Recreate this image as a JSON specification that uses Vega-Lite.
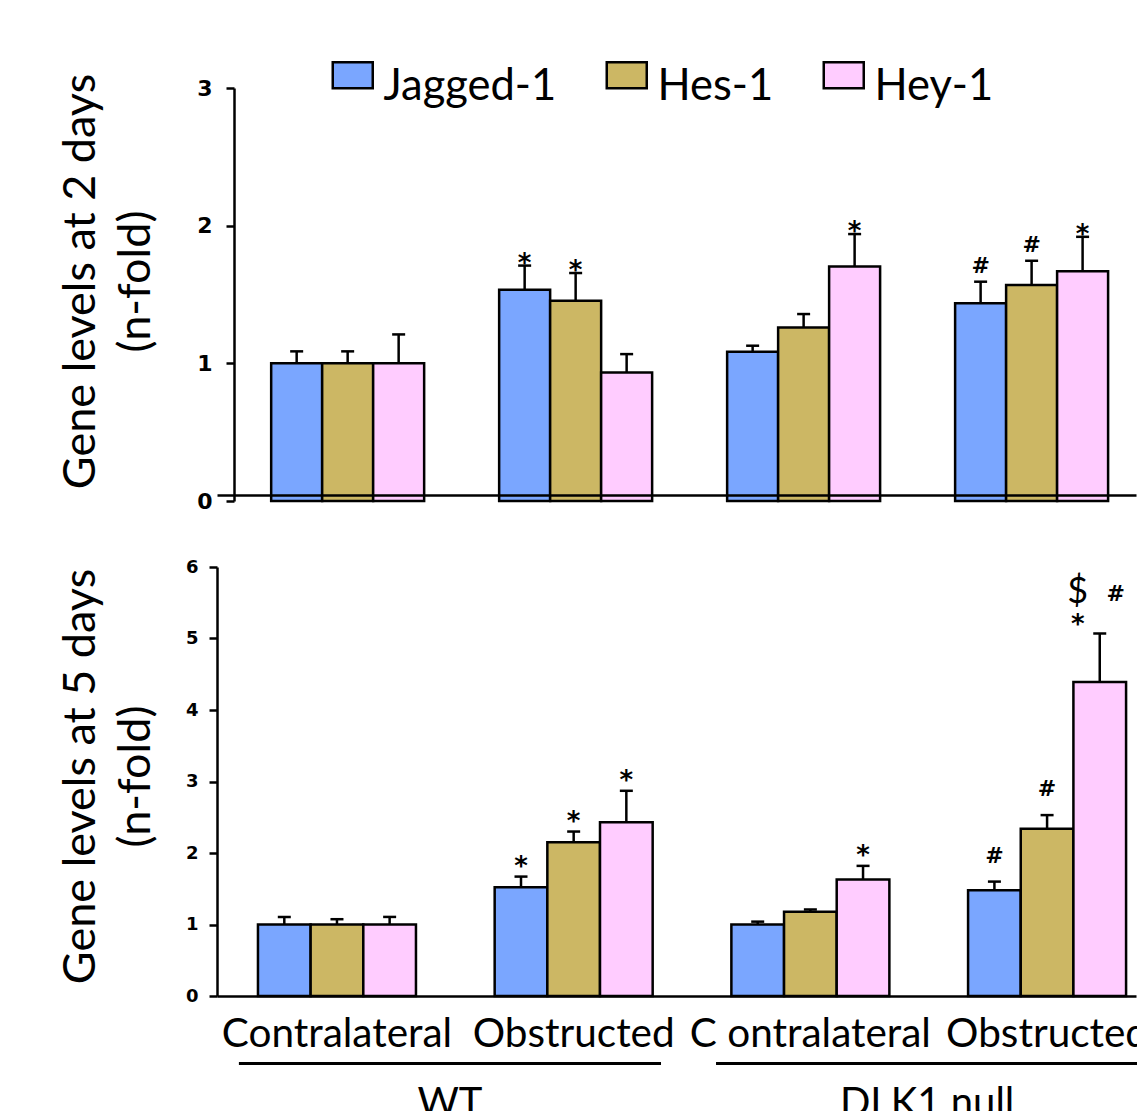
{
  "$schema": "https://vega.github.io/schema/vega-lite/v6.json",
  "padding": {"left": 57, "top": 65, "right": 0, "bottom": 0},
  "background": "white",
  "bounds": "flush",
  "spacing": 66,
  "resolve": {"scale": {"color": "independent", "xOffset": "independent"}},
  "datasets": {
    "d2": [
      {"grp": "WT|Contralateral", "gene": "Jagged-1", "mean": 1.0, "upper": 1.087},
      {"grp": "WT|Contralateral", "gene": "Hes-1", "mean": 1.0, "upper": 1.087},
      {"grp": "WT|Contralateral", "gene": "Hey-1", "mean": 1.0, "upper": 1.21},
      {"grp": "WT|Obstructed", "gene": "Jagged-1", "mean": 1.535, "upper": 1.71, "sig": "*"},
      {"grp": "WT|Obstructed", "gene": "Hes-1", "mean": 1.455, "upper": 1.656, "sig": "*"},
      {"grp": "WT|Obstructed", "gene": "Hey-1", "mean": 0.934, "upper": 1.067},
      {"grp": "DLK1 null|C ontralateral", "gene": "Jagged-1", "mean": 1.085, "upper": 1.128},
      {"grp": "DLK1 null|C ontralateral", "gene": "Hes-1", "mean": 1.261, "upper": 1.358},
      {"grp": "DLK1 null|C ontralateral", "gene": "Hey-1", "mean": 1.704, "upper": 1.939, "sig": "*"},
      {"grp": "DLK1 null|Obstructed", "gene": "Jagged-1", "mean": 1.436, "upper": 1.593, "sig": "#"},
      {"grp": "DLK1 null|Obstructed", "gene": "Hes-1", "mean": 1.569, "upper": 1.745, "sig": "#"},
      {"grp": "DLK1 null|Obstructed", "gene": "Hey-1", "mean": 1.668, "upper": 1.919, "sig": "*"}
    ],
    "d5": [
      {"grp": "WT|Contralateral", "gene": "Jagged-1", "mean": 1.0, "upper": 1.106},
      {"grp": "WT|Contralateral", "gene": "Hes-1", "mean": 1.0, "upper": 1.074},
      {"grp": "WT|Contralateral", "gene": "Hey-1", "mean": 1.0, "upper": 1.106},
      {"grp": "WT|Obstructed", "gene": "Jagged-1", "mean": 1.52, "upper": 1.67, "sig": "*"},
      {"grp": "WT|Obstructed", "gene": "Hes-1", "mean": 2.15, "upper": 2.3, "sig": "*"},
      {"grp": "WT|Obstructed", "gene": "Hey-1", "mean": 2.43, "upper": 2.87, "sig": "*"},
      {"grp": "DLK1 null|C ontralateral", "gene": "Jagged-1", "mean": 1.0, "upper": 1.04},
      {"grp": "DLK1 null|C ontralateral", "gene": "Hes-1", "mean": 1.18, "upper": 1.21},
      {"grp": "DLK1 null|C ontralateral", "gene": "Hey-1", "mean": 1.63, "upper": 1.82, "sig": "*"},
      {"grp": "DLK1 null|Obstructed", "gene": "Jagged-1", "mean": 1.48, "upper": 1.6, "sig": "#"},
      {"grp": "DLK1 null|Obstructed", "gene": "Hes-1", "mean": 2.34, "upper": 2.53, "sig": "#"},
      {"grp": "DLK1 null|Obstructed", "gene": "Hey-1", "mean": 4.39, "upper": 5.07, "sigL": "*", "sigL2": "$", "sigR": "#"}
    ],
    "geno": [{"geno": "WT"}, {"geno": "DLK1 null"}]
  },
  "vconcat": [
    {
      "width": 919,
      "height": 413,
      "data": {"name": "d2"},
      "encoding": {
        "x": {
          "field": "grp", "type": "nominal",
          "sort": ["WT|Contralateral", "WT|Obstructed", "DLK1 null|C ontralateral", "DLK1 null|Obstructed"],
          "scale": {"paddingInner": 0.329, "paddingOuter": 0.18, "align": 0.66},
          "axis": {"labels": false, "ticks": false, "domain": true, "offset": -6, "zindex": 1, "title": null, "domainColor": "black", "domainWidth": 2.5}
        },
        "xOffset": {"field": "gene", "type": "nominal", "sort": ["Jagged-1", "Hes-1", "Hey-1"], "scale": {"paddingInner": 0, "paddingOuter": 0}}
      },
      "layer": [
        {
          "mark": {"type": "rule", "stroke": "black", "strokeWidth": 2.5},
          "encoding": {"y": {"field": "mean", "type": "quantitative"}, "y2": {"field": "upper"}}
        },
        {
          "mark": {"type": "tick", "color": "black", "size": 13, "thickness": 2.5, "opacity": 1},
          "encoding": {"y": {"field": "upper", "type": "quantitative"}}
        },
        {
          "mark": {"type": "bar", "stroke": "black", "strokeWidth": 2.5, "opacity": 1},
          "encoding": {
            "y": {
              "field": "mean", "type": "quantitative",
              "scale": {"domain": [0, 3], "nice": false, "zero": true},
              "axis": {
                "title": ["Gene levels at 2 days", "(n-fold)"],
                "offset": -17, "values": [0, 1, 2, 3], "format": "d",
                "tickSize": 8, "tickWidth": 2.5, "tickColor": "black",
                "domainColor": "black", "domainWidth": 2.5,
                "labelFont": "DejaVu Sans", "labelFontWeight": "bold", "labelFontSize": 22, "labelColor": "black", "labelPadding": 14,
                "titleFont": "Lato", "titleFontSize": 45, "titleFontWeight": "normal", "titleColor": "black", "titleLineHeight": 55,
                "titleX": -131, "titleY": 193, "titleBaseline": "bottom", "grid": false
              }
            },
            "color": {
              "field": "gene", "type": "nominal",
              "sort": ["Jagged-1", "Hes-1", "Hey-1"],
              "scale": {"domain": ["Jagged-1", "Hes-1", "Hey-1"], "range": ["#7aa6ff", "#ccb764", "#ffccff"]},
              "legend": {
                "orient": "none", "legendX": 114, "legendY": -23, "direction": "horizontal", "title": null,
                "symbolType": "M-1,-1.25H1V0.05H-1Z", "symbolSize": 1600, "symbolStrokeColor": "black", "symbolStrokeWidth": 2.5, "symbolOpacity": 1,
                "labelFont": "Lato", "labelFontSize": 43.5, "labelColor": "black", "labelOffset": 9, "labelLimit": 400, "labelBaseline": "middle",
                "columnPadding": 44, "padding": 0
              }
            }
          }
        },
        {
          "transform": [{"filter": "datum.sig == '*'"}],
          "mark": {"type": "text", "font": "DejaVu Sans", "fontWeight": "bold", "fontSize": 26, "dy": 6, "baseline": "alphabetic", "color": "black"},
          "encoding": {"y": {"field": "upper", "type": "quantitative"}, "text": {"field": "sig"}}
        },
        {
          "transform": [{"filter": "datum.sig == '#'"}],
          "mark": {"type": "text", "font": "DejaVu Sans", "fontWeight": "bold", "fontSize": 22, "dy": -9, "baseline": "alphabetic", "color": "black"},
          "encoding": {"y": {"field": "upper", "type": "quantitative"}, "text": {"field": "sig"}}
        }
      ]
    },
    {
      "width": 919,
      "height": 429,
      "data": {"name": "d5"},
      "encoding": {
        "x": {
          "field": "grp", "type": "nominal",
          "sort": ["WT|Contralateral", "WT|Obstructed", "DLK1 null|C ontralateral", "DLK1 null|Obstructed"],
          "scale": {"paddingInner": 0.3325, "paddingOuter": 0.1075, "align": 0.805},
          "axis": {
            "labelExpr": "split(datum.value, '|')[1]",
            "labelFont": "Lato", "labelFontSize": 40.5, "labelColor": "black", "labelPadding": 18, "labelAngle": 0,
            "labelLimit": 400, "labelOverlap": false, "labelBaseline": "top",
            "ticks": false, "tickSize": 0, "domain": true, "domainColor": "black", "domainWidth": 2.5, "zindex": 1, "title": null
          }
        },
        "xOffset": {"field": "gene", "type": "nominal", "sort": ["Jagged-1", "Hes-1", "Hey-1"], "scale": {"paddingInner": 0, "paddingOuter": 0}}
      },
      "layer": [
        {
          "mark": {"type": "rule", "stroke": "black", "strokeWidth": 2.5},
          "encoding": {"y": {"field": "mean", "type": "quantitative"}, "y2": {"field": "upper"}}
        },
        {
          "mark": {"type": "tick", "color": "black", "size": 13, "thickness": 2.5, "opacity": 1},
          "encoding": {"y": {"field": "upper", "type": "quantitative"}}
        },
        {
          "mark": {"type": "bar", "stroke": "black", "strokeWidth": 2.5, "opacity": 1},
          "encoding": {
            "y": {
              "field": "mean", "type": "quantitative",
              "scale": {"domain": [0, 6], "nice": false, "zero": true},
              "axis": {
                "title": ["Gene levels at 5 days", "(n-fold)"],
                "values": [0, 1, 2, 3, 4, 5, 6], "format": "d",
                "tickSize": 8, "tickWidth": 2.5, "tickColor": "black",
                "domainColor": "black", "domainWidth": 2.5,
                "labelFont": "DejaVu Sans", "labelFontWeight": "bold", "labelFontSize": 18, "labelColor": "black", "labelPadding": 11,
                "titleFont": "Lato", "titleFontSize": 45, "titleFontWeight": "normal", "titleColor": "black", "titleLineHeight": 55,
                "titleX": -114, "titleY": 209, "titleBaseline": "bottom", "grid": false
              }
            },
            "color": {
              "field": "gene", "type": "nominal",
              "scale": {"domain": ["Jagged-1", "Hes-1", "Hey-1"], "range": ["#7aa6ff", "#ccb764", "#ffccff"]},
              "legend": null
            }
          }
        },
        {
          "transform": [{"filter": "datum.sig == '*'"}],
          "mark": {"type": "text", "font": "DejaVu Sans", "fontWeight": "bold", "fontSize": 26, "dy": -2, "baseline": "alphabetic", "color": "black"},
          "encoding": {"y": {"field": "upper", "type": "quantitative"}, "text": {"field": "sig"}}
        },
        {
          "transform": [{"filter": "datum.sig == '#'"}],
          "mark": {"type": "text", "font": "DejaVu Sans", "fontWeight": "bold", "fontSize": 22, "dy": -19, "baseline": "alphabetic", "color": "black"},
          "encoding": {"y": {"field": "upper", "type": "quantitative"}, "text": {"field": "sig"}}
        },
        {
          "transform": [{"filter": "datum.sigL == '*'"}],
          "mark": {"type": "text", "font": "DejaVu Sans", "fontWeight": "bold", "fontSize": 26, "dx": -22, "dy": 0, "baseline": "alphabetic", "color": "black"},
          "encoding": {"y": {"field": "upper", "type": "quantitative"}, "text": {"field": "sigL"}}
        },
        {
          "transform": [{"filter": "datum.sigL2 == '$'"}],
          "mark": {"type": "text", "font": "Lato", "fontSize": 36, "dx": -22, "dy": -30, "baseline": "alphabetic", "color": "black"},
          "encoding": {"y": {"field": "upper", "type": "quantitative"}, "text": {"field": "sigL2"}}
        },
        {
          "transform": [{"filter": "datum.sigR == '#'"}],
          "mark": {"type": "text", "font": "DejaVu Sans", "fontWeight": "bold", "fontSize": 22, "dx": 16, "dy": -32, "baseline": "alphabetic", "color": "black"},
          "encoding": {"y": {"field": "upper", "type": "quantitative"}, "text": {"field": "sigR"}}
        }
      ]
    },
    {
      "width": 925,
      "height": 3,
      "data": {"name": "geno"},
      "mark": {"type": "bar", "color": "black"},
      "encoding": {
        "x": {
          "field": "geno", "type": "nominal", "sort": ["WT", "DLK1 null"],
          "scale": {"paddingInner": 0.1153, "paddingOuter": 0.027, "align": 0.85},
          "axis": {
            "labelFont": "Lato", "labelFontSize": 40, "labelColor": "black", "labelPadding": 18, "labelAngle": 0,
            "labelLimit": 400, "labelOverlap": false, "labelBaseline": "top",
            "ticks": false, "tickSize": 0, "domain": false, "title": null
          }
        },
        "y": {"datum": 1, "type": "quantitative", "scale": {"domain": [0, 1], "nice": false}, "axis": null},
        "y2": {"datum": 0}
      }
    }
  ],
  "config": {
    "view": {"stroke": null},
    "axis": {"grid": false},
    "font": "Lato"
  }
}
